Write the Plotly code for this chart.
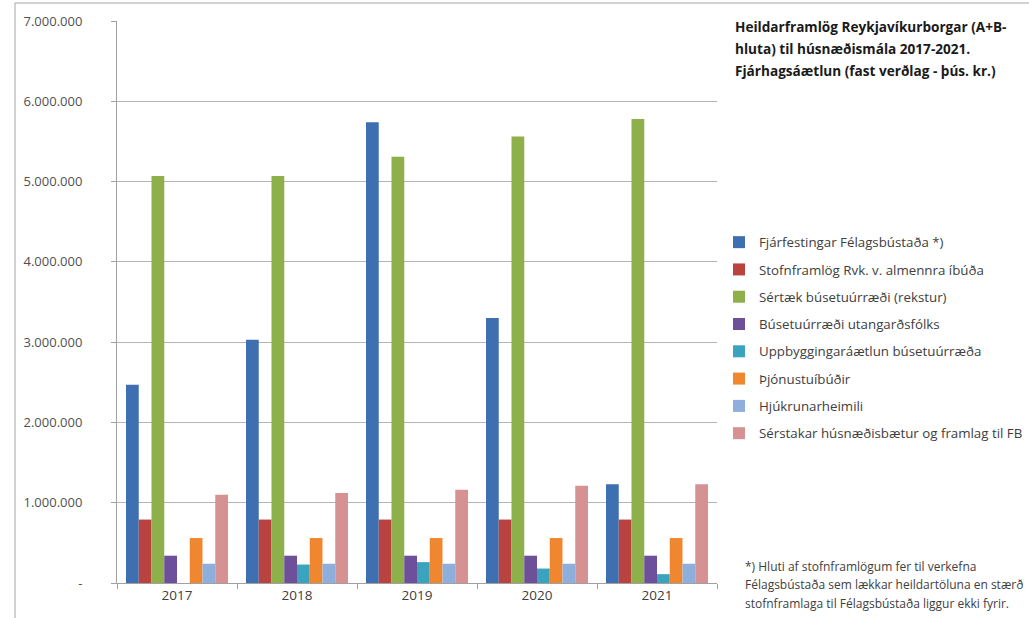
import plotly.graph_objects as go

years = ["2017", "2018", "2019", "2020", "2021"]

series_names = [
    "Fjárfestingar Félagsbústaða *)",
    "Stofnframlög Rvk. v. almennra íbúða",
    "Sértæk búsetuúrræði (rekstur)",
    "Búsetuúrræði utangarðsfólks",
    "Uppbyggingaráætlun búsetuúrræða",
    "Þjónustuíbúðir",
    "Hjúkrunarheimili",
    "Sérstakar húsnæðisbætur og framlag til FB",
]

fjarfestingar = [2470000, 3030000, 5740000, 3300000, 1230000]
stofnframlog = [790000, 790000, 790000, 790000, 790000]
sertaek = [5070000, 5070000, 5310000, 5560000, 5780000]
utangardsfolk = [340000, 340000, 340000, 340000, 340000]
uppbygging = [0, 230000, 260000, 180000, 110000]
thjonustuibudir = [560000, 560000, 560000, 560000, 560000]
hjukrunarheimili = [240000, 240000, 240000, 240000, 240000]
husnaedisbaetur = [1100000, 1120000, 1160000, 1210000, 1230000]

series_values = [fjarfestingar, stofnframlog, sertaek, utangardsfolk,
                 uppbygging, thjonustuibudir, hjukrunarheimili, husnaedisbaetur]

colors = ["#3E6FB0", "#B8433F", "#8DB04B", "#6E4F9A",
          "#3AA3BD", "#F0862F", "#8EAEDB", "#D69293"]

y_tickvals = [0, 1000000, 2000000, 3000000, 4000000, 5000000, 6000000, 7000000]
y_ticktext = ["-", "1.000.000", "2.000.000", "3.000.000", "4.000.000",
              "5.000.000", "6.000.000", "7.000.000"]

title_lines = [
    "Heildarframlög Reykjavíkurborgar (A+B-",
    "hluta) til húsnæðismála 2017-2021.",
    "Fjárhagsáætlun (fast verðlag - þús. kr.)",
]
footnote_lines = [
    "*) Hluti af stofnframlögum fer til verkefna",
    "Félagsbústaða sem lækkar heildartöluna en stærð",
    "stofnframlaga til Félagsbústaða liggur ekki fyrir.",
]

W, H = 1029, 618
L, R, T, B = 117, 312, 21, 35
PW = W - L - R
PH = H - T - B


def px(x):
    return (x - L) / PW


def py(y):
    return (H - B - y) / PH


fig = go.Figure()
for i, (name, vals) in enumerate(zip(series_names, series_values)):
    fig.add_trace(go.Bar(
        x=years, y=vals, name=name,
        marker=dict(color=colors[i], line=dict(width=0)),
        legendgroup="g%d" % i,
    ))

font_family = "Open Sans, Liberation Sans, Arial, sans-serif"

annotations = []
for k, line in enumerate(title_lines):
    annotations.append(dict(
        x=px(733), y=py(27 + k * 21.5), xref="paper", yref="paper",
        xanchor="left", yanchor="middle", showarrow=False,
        text="<b>%s</b>" % line,
        font=dict(family=font_family, size=13.6, color="#1a1a1a"),
    ))
for k, line in enumerate(footnote_lines):
    annotations.append(dict(
        x=px(743), y=py(566 + k * 18.5), xref="paper", yref="paper",
        xanchor="left", yanchor="middle", showarrow=False,
        text=line,
        font=dict(family=font_family, size=12, color="#404040"),
    ))

shapes = [
    dict(type="line", xref="paper", yref="paper",
         x0=px(15), x1=px(15), y0=py(H + 5), y1=py(3),
         line=dict(color="#A6A6A6", width=1)),
    dict(type="line", xref="paper", yref="paper",
         x0=px(15), x1=px(W + 5), y0=py(3), y1=py(3),
         line=dict(color="#A6A6A6", width=1)),
]

fig.update_layout(
    width=W, height=H,
    margin=dict(l=L, r=R, t=T, b=B, pad=0, autoexpand=False),
    paper_bgcolor="white", plot_bgcolor="white",
    barmode="group", bargap=0.15, bargroupgap=0,
    font=dict(family=font_family, color="#404040"),
    showlegend=True,
    legend=dict(
        x=px(719), y=py(227), xanchor="left", yanchor="top",
        font=dict(family=font_family, size=13.3, color="#404040"),
        tracegroupgap=7, itemwidth=30, bgcolor="rgba(0,0,0,0)",
    ),
    annotations=annotations,
    shapes=shapes,
)

fig.update_xaxes(
    showline=True, linecolor="#A0A0A0", linewidth=1,
    ticks="outside", tickson="boundaries", ticklen=5, tickcolor="#A0A0A0",
    tickfont=dict(size=13.5, color="#404040"),
    showgrid=False,
)
fig.update_yaxes(
    range=[0, 7000000],
    tickvals=y_tickvals, ticktext=y_ticktext,
    showline=True, linecolor="#A0A0A0", linewidth=1,
    ticks="outside", ticklen=5, tickcolor="#A0A0A0",
    ticklabelstandoff=26,
    tickfont=dict(size=13, color="#505050"),
    showgrid=True, gridcolor="#B4B4B4", gridwidth=1,
    zeroline=False,
)

fig.write_html("out.html")
